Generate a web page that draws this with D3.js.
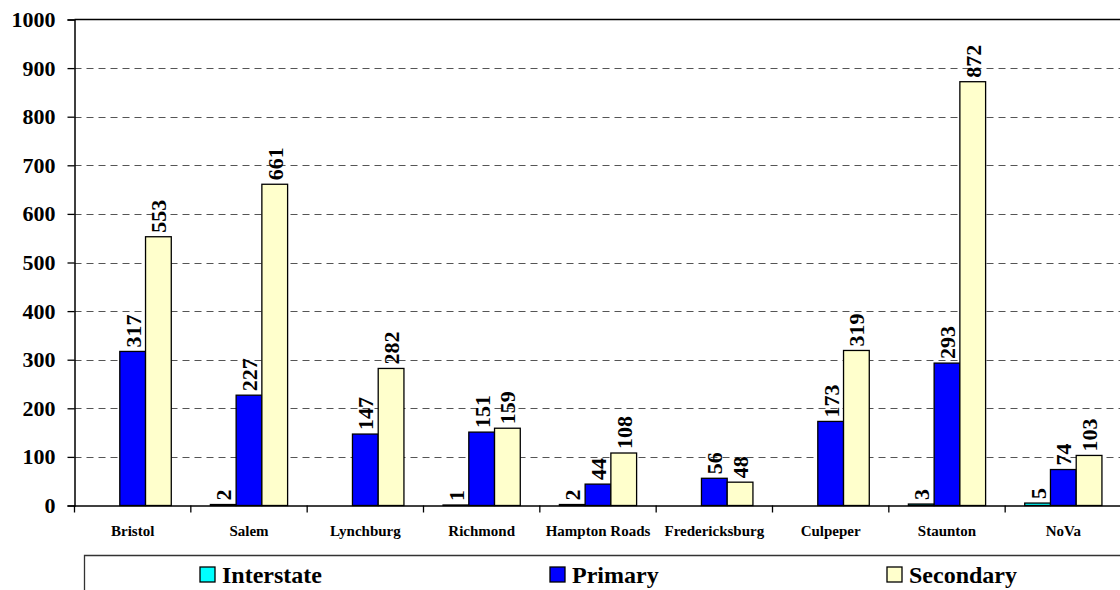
<!DOCTYPE html>
<html><head><meta charset="utf-8">
<script src="https://cdn.jsdelivr.net/npm/d3@7"></script>
<style>
body{margin:0;background:#fff;}
svg{display:block;}
svg text{font-family:"Times New Roman","Liberation Serif",Tinos,"DejaVu Serif",serif !important;font-weight:bold;}
</style></head>
<body>
<script>
const categories = ["Bristol","Salem","Lynchburg","Richmond","Hampton Roads","Fredericksburg","Culpeper","Staunton","NoVa"];
const seriesNames = ["Interstate","Primary","Secondary"];
const interstate = [0,2,0,1,2,0,0,3,5];
const primary = [317,227,147,151,44,56,173,293,74];
const secondary = [553,661,282,159,108,48,319,872,103];
const yTicks = [0,100,200,300,400,500,600,700,800,900,1000];
const colors = ["#00FFFF","#0000FF","#FFFFCC"];

(function(){
const W=1120,H=590;
const svg=d3.select("body").append("svg").attr("width",W).attr("height",H);
const mL=74.5, mR=1121.5, mT=19.5, mB=505.5;

const x=d3.scaleBand().domain(categories).range([mL,mR]).paddingInner(0).paddingOuter(0);
const xs=d3.scaleBand().domain(seriesNames).range([0,x.bandwidth()]).paddingInner(0).paddingOuter(0.76);
const y=d3.scaleLinear().domain([0,1000]).range([mB,mT]);

// grid
svg.append("g").selectAll("line").data(yTicks.filter(d=>d>0&&d<1000)).join("line")
  .attr("x1",mL).attr("x2",W).attr("y1",d=>Math.round(y(d))+0.5).attr("y2",d=>Math.round(y(d))+0.5)
  .attr("stroke","#555").attr("stroke-width",1.2).attr("stroke-dasharray","7,5");
// top border
svg.append("line").attr("x1",mL).attr("x2",W).attr("y1",mT).attr("y2",mT).attr("stroke","#000").attr("stroke-width",1.5);

const data=[interstate,primary,secondary];
const gBars=svg.append("g");
categories.forEach((c,i)=>{
  seriesNames.forEach((s,j)=>{
    const v=data[j][i];
    if(v>0){
      gBars.append("rect").attr("x",x(c)+xs(s)).attr("width",xs.bandwidth())
        .attr("y",y(v)).attr("height",y(0)-y(v))
        .attr("fill",colors[j]).attr("stroke","#000").attr("stroke-width",1.3);
      const cx=x(c)+xs(s)+xs.bandwidth()/2;
      gBars.append("text").attr("transform",`translate(${cx+8},${y(v)-4}) rotate(-90)`)
        .attr("font-size",22).attr("text-anchor","start").text(v);
    }
  });
});

// y axis
const ya=svg.append("g").attr("transform",`translate(${mL},0)`).call(d3.axisLeft(y).tickValues(yTicks).tickFormat(d3.format("d")).tickSize(7).tickPadding(12));
ya.select(".domain").attr("stroke","#000").attr("stroke-width",1.5);
ya.selectAll("text").attr("font-size",22).attr("fill","#000");
ya.selectAll("line").attr("stroke","#000").attr("stroke-width",1.3);

// x axis
const xa=svg.append("g").attr("transform",`translate(0,${mB})`).call(d3.axisBottom(x).tickSize(0).tickPadding(20));
xa.select(".domain").attr("stroke","#000").attr("stroke-width",1.5);
xa.selectAll("text").attr("font-size",15).attr("fill","#000");
svg.append("g").selectAll("line").data(categories).join("line")
  .attr("x1",d=>x(d)).attr("x2",d=>x(d)).attr("y1",mB).attr("y2",mB+7).attr("stroke","#000").attr("stroke-width",1.3);

// legend
svg.append("path").attr("d",`M84.5,${H} V555.5 H${W}`).attr("fill","none").attr("stroke","#333").attr("stroke-width",1.3);
const legX=[200,550,887];
seriesNames.forEach((s,j)=>{
  svg.append("rect").attr("x",legX[j]).attr("y",567).attr("width",15).attr("height",15)
    .attr("fill",colors[j]).attr("stroke","#000").attr("stroke-width",1.3);
  svg.append("text").attr("x",legX[j]+22).attr("y",583).attr("font-size",24).text(s);
});
})();
</script>
</body></html>
